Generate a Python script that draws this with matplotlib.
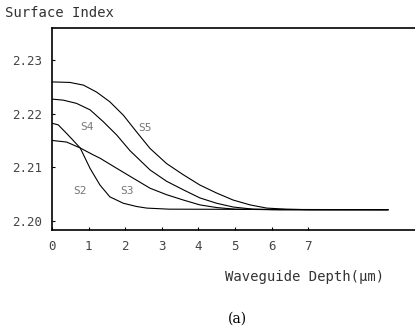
import matplotlib
matplotlib.use("Agg")
import matplotlib.pyplot as plt

# Surface index vs waveguide depth
x_s5 = [0, 0.49, 0.86, 1.22, 1.58, 1.95, 2.31, 2.68, 3.13, 3.59, 4.04, 4.5, 4.95, 5.41, 5.87, 6.4, 7.0, 9.18]
y_s5 = [2.2259, 2.2258, 2.2253, 2.2240, 2.2222, 2.2197, 2.2166, 2.2135, 2.2107, 2.2086, 2.2067,
        2.2052, 2.2039, 2.2030, 2.2024, 2.2022, 2.2021, 2.2021]

x_s4 = [0, 0.31, 0.67, 1.04, 1.40, 1.77, 2.13, 2.68, 3.13, 3.59, 4.04, 4.5, 4.95, 5.5, 6.2, 9.18]
y_s4 = [2.2227, 2.2225, 2.2219, 2.2207, 2.2185, 2.2160, 2.2131, 2.2095, 2.2074, 2.2058, 2.2043,
        2.2033, 2.2026, 2.2022, 2.2021, 2.2021]

x_s3 = [0, 0.17, 0.40, 0.58, 0.77, 1.04, 1.31, 1.58, 1.95, 2.31, 2.59, 3.2, 9.18]
y_s3 = [2.2182, 2.2179, 2.2163, 2.2150, 2.2136, 2.2098, 2.2067, 2.2045, 2.2033, 2.2027, 2.2024,
        2.2022, 2.2021]

x_s2 = [0, 0.40, 0.77, 1.13, 1.31, 1.77, 2.31, 2.68, 3.13, 3.59, 4.04, 4.5, 5.0, 6.0, 9.18]
y_s2 = [2.2150, 2.2147, 2.2136, 2.2123, 2.2117, 2.2098, 2.2076, 2.2061, 2.2049, 2.2039, 2.2030,
        2.2025, 2.2022, 2.2021, 2.2021]

curve_labels = ["S4", "S5", "S2", "S3"]
label_x = [0.96, 2.54, 0.77, 2.05]
label_y = [2.2175, 2.2173, 2.2056, 2.2056]

x_ticks = [0, 1, 2, 3, 4, 5, 6, 7]
y_ticks = [2.20, 2.21, 2.22, 2.23]

mono = "DejaVu Sans Mono"

fig = plt.figure(figsize=(4.15, 3.32), dpi=100)
ax = fig.add_axes([0.1253, 0.3072, 0.8747, 0.6085])

for xs, ys in [(x_s5, y_s5), (x_s4, y_s4), (x_s3, y_s3), (x_s2, y_s2)]:
    ax.plot(xs, ys, color="black", linewidth=0.8)

for lab, lx, ly in zip(curve_labels, label_x, label_y):
    ax.text(lx, ly, lab, fontsize=8, family=mono, color="#777777", ha="center", va="center")

ax.set_xlim(0, 9.92)
ax.set_ylim(2.19832, 2.23594)
ax.set_xticks(x_ticks)
ax.set_xticklabels([str(t) for t in x_ticks], family=mono, fontsize=9, color="#444444")
ax.set_yticks(y_ticks)
ax.set_yticklabels(["%.2f" % t for t in y_ticks], family=mono, fontsize=9, color="#444444")
ax.tick_params(direction="in", length=2.5, width=0.8, pad=7)
ax.spines["right"].set_visible(False)
for s in ["left", "bottom", "top"]:
    ax.spines[s].set_linewidth(1.2)

fig.text(5 / 415, 1 - 13 / 332, "Surface Index", family=mono, fontsize=10, color="#333333",
         ha="left", va="center")
fig.text(225 / 415, 1 - 277 / 332, "Waveguide Depth(\u03bcm)", family=mono, fontsize=10,
         color="#333333", ha="left", va="center")
fig.text(237 / 415, 1 - 319 / 332, "(a)", family="DejaVu Serif", fontsize=10, color="black",
         ha="center", va="center")

fig.savefig("out.png", dpi=100)
